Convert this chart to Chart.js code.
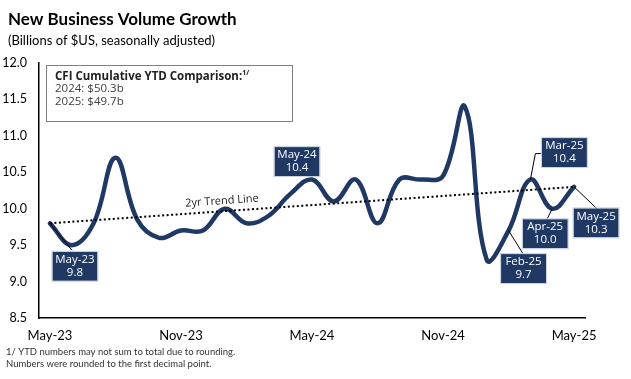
<!DOCTYPE html>
<html>
<head>
<meta charset="utf-8">
<script src="https://cdn.jsdelivr.net/npm/chart.js@4"></script>
<style>
  html, body { margin: 0; padding: 0; background: #fff; }
  canvas { display: block; }
</style>
</head>
<body>
<canvas id="myChart" width="631" height="379"></canvas>
<script>
var months = ["May-23", "Jun-23", "Jul-23", "Aug-23", "Sep-23", "Oct-23", "Nov-23", "Dec-23",
    "Jan-24", "Feb-24", "Mar-24", "Apr-24", "May-24", "Jun-24", "Jul-24", "Aug-24",
    "Sep-24", "Oct-24", "Nov-24", "Dec-24", "Jan-25", "Feb-25", "Mar-25", "Apr-25", "May-25"];

var volume = [9.8, 9.5, 9.8, 10.7, 9.85, 9.6, 9.7, 9.7,
    10.0, 9.8, 9.9, 10.2, 10.4, 10.1, 10.4, 9.8,
    10.4, 10.4, 10.45, 11.4, 9.3, 9.7, 10.4, 10.0, 10.3];

var tickMonths = ["May-23", "Nov-23", "May-24", "Nov-24", "May-25"];

var trendStart = 9.8;
var trendEnd = 10.3;

var ytdYears = ["2024", "2025"];
var ytdValues = [50.3, 49.7];

// callouts: month index + where the box sits relative to the point
var callouts = [
    { i: 0, dx: 25, dy: 43, lead: [[22, 27]] },
    { i: 12, dx: -15, dy: -18, lead: [] },
    { i: 21, dx: 15, dy: 38, lead: [[15, 24]] },
    { i: 22, dx: 34, dy: -27, lead: [[5, -26], [12, -26]] },
    { i: 23, dx: -7, dy: 25, lead: [[-6, 12]] },
    { i: 24, dx: 22, dy: 36, lead: [[23, 22]] }
];

var navy = "#1f3864";

var trendData = months.map((m, i) => i === 0 ? trendStart : (i === months.length - 1 ? trendEnd : null));

var extras = {
    id: "extras",
    afterDatasetsDraw(chart) {
        let ctx = chart.ctx;
        let x = chart.scales.x, y = chart.scales.y;
        ctx.save();

        // trend label
        let p0x = x.getPixelForValue(0), p0y = y.getPixelForValue(trendStart);
        let p1x = x.getPixelForValue(months.length - 1), p1y = y.getPixelForValue(trendEnd);
        let ang = Math.atan2(p1y - p0y, p1x - p0x);
        ctx.translate(222, 201);
        ctx.rotate(ang);
        ctx.font = "11px 'Open Sans'";
        ctx.fillStyle = "#222";
        ctx.textAlign = "center";
        ctx.textBaseline = "middle";
        ctx.fillText("2yr Trend Line", 0, 0);
        ctx.setTransform(1, 0, 0, 1, 0, 0);

        // callouts
        callouts.forEach(c => {
            let px = x.getPixelForValue(c.i), py = y.getPixelForValue(volume[c.i]);
            if (c.lead.length) {
                ctx.strokeStyle = "#000";
                ctx.lineWidth = 1;
                ctx.beginPath();
                ctx.moveTo(px, py);
                c.lead.forEach(l => ctx.lineTo(px + l[0], py + l[1]));
                ctx.stroke();
            }
            let w = 45, h = 29;
            let bx = px + c.dx - w / 2, by = py + c.dy - h / 2;
            ctx.fillStyle = navy;
            ctx.fillRect(bx, by, w, h);
            ctx.strokeStyle = "#c9d1de";
            ctx.lineWidth = 1;
            ctx.strokeRect(bx - 0.5, by - 0.5, w + 1, h + 1);
            ctx.fillStyle = "#fff";
            ctx.font = "11.5px 'Open Sans'";
            ctx.textAlign = "center";
            ctx.textBaseline = "middle";
            let v = c.i === 21 ? 9.7 : volume[c.i];
            ctx.fillText(months[c.i], px + c.dx, by + 8);
            ctx.fillText(v.toFixed(1), px + c.dx, by + 21);
        });
        ctx.restore();
    },
    afterDraw(chart) {
        let ctx = chart.ctx;
        ctx.save();
        ctx.textBaseline = "alphabetic";
        ctx.textAlign = "left";
        ctx.fillStyle = "#000";
        ctx.font = "bold 17px Lato";
        ctx.fillText("New Business Volume Growth", 8, 25);
        ctx.font = "13px Lato";
        ctx.fillText("(Billions of $US, seasonally adjusted)", 8, 45);

        // YTD box
        ctx.fillStyle = "#fff";
        ctx.fillRect(46, 65, 246, 56);
        ctx.strokeStyle = "#7f7f7f";
        ctx.lineWidth = 1;
        ctx.strokeRect(46.5, 65.5, 246, 56);
        ctx.fillStyle = "#222";
        ctx.font = "bold 11.5px 'Open Sans'";
        let head = "CFI Cumulative YTD Comparison:";
        ctx.fillText(head, 55, 80);
        let hw = ctx.measureText(head).width;
        ctx.font = "bold 7px 'Open Sans'";
        ctx.fillText("1/", 55 + hw, 75);
        ctx.font = "11.5px 'Open Sans'";
        ctx.fillStyle = "#404040";
        ytdYears.forEach((yr, k) => {
            ctx.fillText(yr + ": $" + ytdValues[k].toFixed(1) + "b", 55, 92 + k * 13);
        });

        // footnote
        ctx.fillStyle = "#333";
        ctx.font = "9.5px Lato";
        ctx.fillText("1/ YTD numbers may not sum to total due to rounding.", 6, 355);
        ctx.fillText("Numbers were rounded to the first decimal point.", 6, 367);
        ctx.restore();
    }
};

createChart = () => {
    chart = new Chart(document.getElementById("myChart"), {
        type: "line",
        data: {
            labels: months,
            datasets: [
                {
                    data: trendData,
                    borderColor: "#000",
                    borderWidth: 2,
                    borderDash: [2, 2.5],
                    pointRadius: 0,
                    spanGaps: true,
                    tension: 0,
                    fill: false
                },
                {
                    data: volume,
                    borderColor: navy,
                    borderWidth: 4.5,
                    borderCapStyle: "round",
                    pointRadius: 0,
                    tension: 0.4,
                    fill: false
                }
            ]
        },
        plugins: [extras],
        options: {
            responsive: false,
            animation: false,
            devicePixelRatio: 1,
            layout: { padding: { left: 3, right: 46, top: 63, bottom: 31 } },
            plugins: { legend: { display: false }, tooltip: { enabled: false } },
            scales: {
                x: {
                    offset: true,
                    grid: { display: false, drawTicks: false },
                    border: { display: true, color: "#000", width: 1.5 },
                    ticks: {
                        autoSkip: false,
                        maxRotation: 0,
                        padding: 10,
                        color: "#000",
                        font: { family: "Lato", size: 13 },
                        callback: function (v, i) { return tickMonths.includes(months[i]) ? months[i] : ""; }
                    },
                    afterFit: s => { s.height = 30; }
                },
                y: {
                    min: 8.5,
                    max: 12,
                    grid: { display: false, drawTicks: false },
                    border: { display: true, color: "#000", width: 1.5 },
                    ticks: {
                        stepSize: 0.5,
                        padding: 12,
                        color: "#000",
                        font: { family: "Lato", size: 12.5 },
                        callback: v => v.toFixed(1)
                    },
                    afterFit: s => { s.width = 36; }
                }
            }
        }
    });
}

createChart();
</script>
</body>
</html>
